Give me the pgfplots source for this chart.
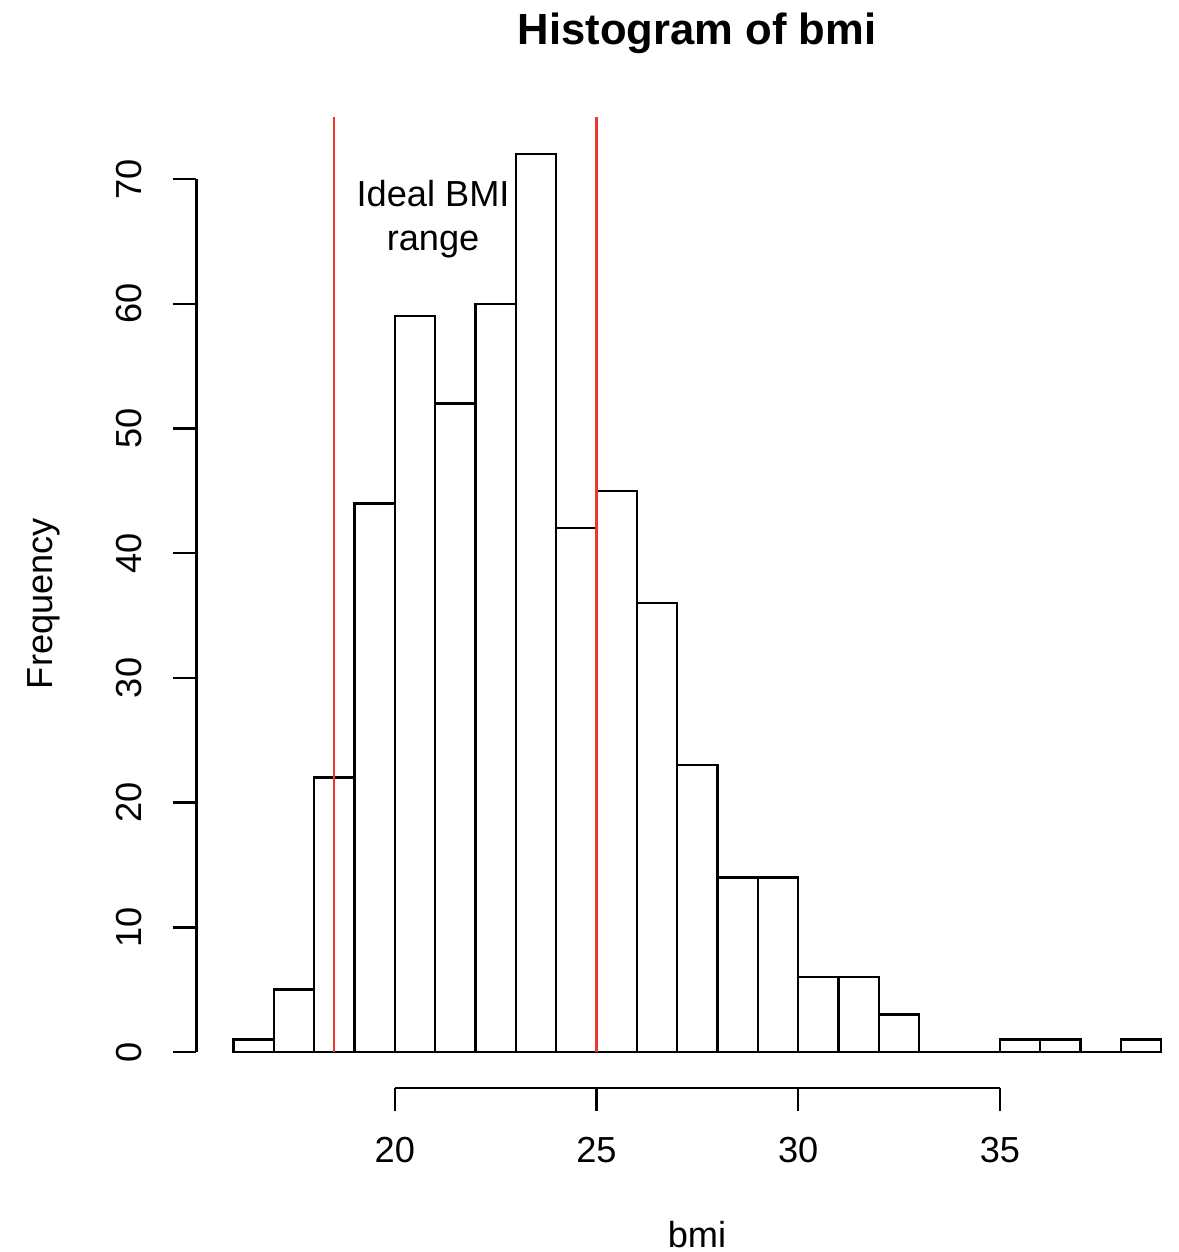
\documentclass[border=0pt]{standalone}
\usepackage{pgfplots}
\pgfplotsset{compat=1.18}
\usepackage{fontspec}
\setmainfont{Liberation Sans}
\definecolor{rred}{RGB}{235,55,45}
\begin{document}
\begin{tikzpicture}
\path[use as bounding box] (0,0) rectangle (11.79cm,12.52cm);
\begin{axis}[
  scale only axis,
  width=9.827cm, height=9.697cm,
  at={(1.963cm,1.641cm)}, anchor=south west,
  xmin=15.08, xmax=39.44, ymin=-2.88, ymax=74.88,
  clip=false,
  axis line style={draw=none},
  xtick={20,25,30,35}, ytick={0,10,...,70},
  xtick pos=bottom, ytick pos=left,
  tick align=outside,
  major tick length=0.235cm,
  every tick/.style={black, line width=0.7pt},
  /pgf/number format/assume math mode=true,
  tick label style={font=\fontsize{10.3}{12}\selectfont},
  xticklabel style={anchor=base, yshift=-0.515cm},
  yticklabel style={xshift=-0.31cm, rotate=90, anchor=base},
]
\addplot[ybar interval, draw=black, fill=none, line width=0.7pt] coordinates {
(16,1) (17,5) (18,22) (19,44) (20,59) (21,52) (22,60) (23,72) (24,42)
(25,45) (26,36) (27,23) (28,14) (29,14) (30,6) (31,6) (32,3) (33,0)
(34,0) (35,1) (36,1) (37,0) (38,1) (39,1)};
\addplot[black, line width=0.7pt] coordinates {(20,-2.88) (35,-2.88)};
\addplot[black, line width=0.7pt] coordinates {(15.08,0) (15.08,70)};
\addplot[rred, line width=0.6pt] coordinates {(18.5,0) (18.5,75)};
\addplot[rred, line width=0.6pt] coordinates {(25,0) (25,75)};
\node[anchor=base, font=\fontsize{10.3}{12}\selectfont] at (axis cs:20.95,67.76) {Ideal BMI};
\node[anchor=base, font=\fontsize{10.3}{12}\selectfont] at (axis cs:20.95,64.31) {range};
\end{axis}
\node[anchor=base, font=\fontsize{12.4}{14}\selectfont\bfseries] at (6.97cm,12.07cm) {Histogram of bmi};
\node[anchor=base, font=\fontsize{10.3}{12}\selectfont] at (6.97cm,0.04cm) {bmi};
\node[anchor=base, rotate=90, font=\fontsize{10.3}{12}\selectfont] at (0.52cm,6.485cm) {Frequency};
\end{tikzpicture}
\end{document}
